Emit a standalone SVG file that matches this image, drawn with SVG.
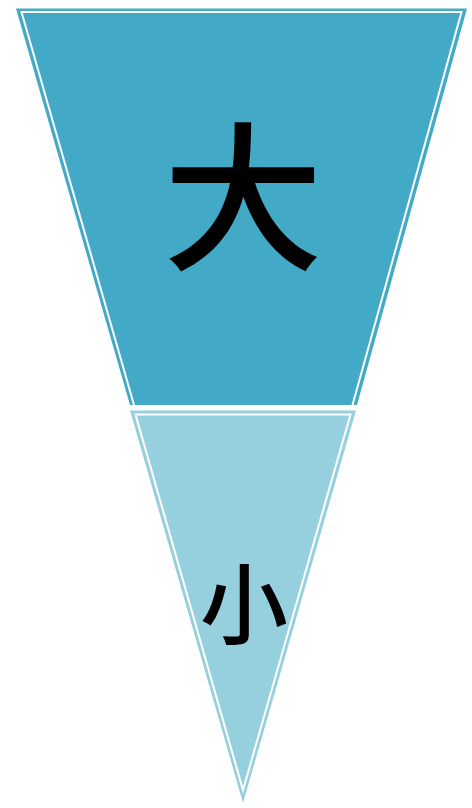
<svg xmlns="http://www.w3.org/2000/svg" width="472" height="808" viewBox="0 0 472 808">
  <style>
    .lbl { font-family: "Noto Sans CJK SC", "Noto Sans CJK JP", sans-serif; font-weight: 500; fill: #000; text-anchor: middle; }
    .inner { fill: none; stroke: #ffffff; stroke-width: 2; stroke-linejoin: miter; }
  </style>
  <rect width="472" height="808" fill="#ffffff"/>
  <g id="top-big">
    <polygon points="16,8.5 467,8.5 357,405 130,405" fill="#42a9c6"/>
    <polyline class="inner" points="134,405 21.5,12 461.5,12 352.5,405"/>
    <text class="lbl" x="243" y="258" font-size="160">大</text>
  </g>
  <g id="bottom-small">
    <polygon points="130,410.5 356,410.5 243,803" fill="#96cfde"/>
    <polygon class="inner" points="135.5,414.5 350.5,414.5 243,790"/>
    <text class="lbl" x="244" y="637" font-size="88">小</text>
  </g>
  <g id="connectors"/>
</svg>
